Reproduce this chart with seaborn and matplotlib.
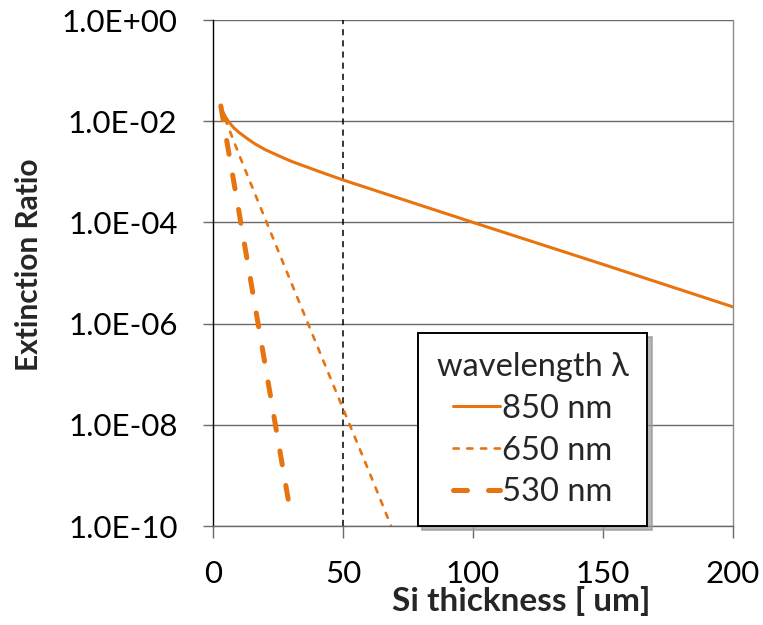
import pandas as pd
import matplotlib
matplotlib.use("Agg")
import matplotlib.pyplot as plt
from matplotlib.lines import Line2D
import seaborn as sns

# Extinction ratio vs. Si thickness (um) for three wavelengths
thickness_850 = [3, 4, 5, 6, 8, 10, 13, 16, 20, 25, 30, 40, 50, 100, 150, 200]
ratio_850 = [1.9e-2, 1.45e-2, 1.17e-2, 9.8e-3, 7.4e-3, 6.0e-3, 4.6e-3, 3.6e-3,
             2.75e-3, 2.1e-3, 1.62e-3, 1.05e-3, 6.9e-4, 1.0e-4, 1.48e-5, 2.14e-6]

thickness_650 = [3, 5, 10, 15, 20, 30, 40, 50, 60, 68.5]
ratio_650 = [2.0e-2, 1.0e-2, 2.2e-3, 5.1e-4, 1.2e-4, 6.6e-6, 3.7e-7,
             2.1e-8, 1.2e-9, 1.0e-10]

thickness_530 = [3, 5, 10, 15, 20, 25, 30]
ratio_530 = [2.0e-2, 5.0e-3, 1.6e-4, 5.0e-6, 1.6e-7, 5.0e-9, 1.6e-10]

wavelengths = ["850 nm", "650 nm", "530 nm"]
legend_title = "wavelength λ"

x_ticks = [0, 50, 100, 150, 200]
y_ticks = [1e0, 1e-2, 1e-4, 1e-6, 1e-8, 1e-10]
y_tick_labels = ["1.0E+00", "1.0E-02", "1.0E-04", "1.0E-06", "1.0E-08", "1.0E-10"]
reference_thickness = 50

x_label = "Si thickness [ um]"
y_label = "Extinction Ratio"

# ---- tidy table ----
frames = []
for name, xs, ys in zip(wavelengths,
                        [thickness_850, thickness_650, thickness_530],
                        [ratio_850, ratio_650, ratio_530]):
    frames.append(pd.DataFrame({"thickness": xs, "ratio": ys, "wavelength": name}))
df = pd.concat(frames, ignore_index=True)

# ---- styling ----
sns.set_style("white")
plt.rcParams["font.family"] = ["Lato", "DejaVu Sans"]
FS = 22.5
FS_LEG = 23.5
orange = "#E8740F"
grid_col = "#6a6a6a"

palette = {w: orange for w in wavelengths}
sizes = {"850 nm": 2.2, "650 nm": 1.9, "530 nm": 3.6}
dashes = {"850 nm": "", "650 nm": (2.0, 3.2), "530 nm": (2.8, 4.2)}

fig = plt.figure(figsize=(7.63, 6.25), dpi=100)
ax = fig.add_axes([213 / 763, 1 - 526 / 625, 520 / 763, 506 / 625])
ax.set_yscale("log")

sns.lineplot(data=df, x="thickness", y="ratio", hue="wavelength",
             style="wavelength", size="wavelength",
             palette=palette, sizes=sizes, dashes=dashes,
             hue_order=wavelengths, style_order=wavelengths, size_order=wavelengths,
             estimator=None, sort=True, legend=False, ax=ax,
             dash_capstyle="round", solid_capstyle="round",
             solid_joinstyle="round", zorder=3)

ax.axvline(reference_thickness, color="black", lw=1.1,
           linestyle=(0, (4, 3.3)), zorder=2)

ax.set_xlim(0, 200)
ax.set_ylim(1e-10, 1)
ax.set_xticks(x_ticks)
ax.set_xticklabels([str(t) for t in x_ticks], fontsize=FS)
ax.set_yticks(y_ticks)
ax.set_yticklabels(y_tick_labels, fontsize=FS)
ax.yaxis.set_minor_locator(matplotlib.ticker.NullLocator())

ax.yaxis.grid(True, color=grid_col, lw=1.0, zorder=1)
ax.xaxis.grid(False)
ax.set_axisbelow(True)

ax.tick_params(axis="y", direction="out", length=7.5, width=1.0,
               color=grid_col, pad=18, labelcolor="black", left=True)
ax.tick_params(axis="x", direction="out", length=8.5, width=1.0,
               color=grid_col, pad=16, labelcolor="black", bottom=True)

ax.spines["top"].set_visible(False)
ax.spines["right"].set_color("#8c8c8c")
ax.spines["right"].set_linewidth(1.0)
ax.spines["left"].set_color("black")
ax.spines["left"].set_linewidth(1.0)
ax.spines["bottom"].set_color(grid_col)
ax.spines["bottom"].set_linewidth(1.0)

ax.set_xlabel(x_label, fontsize=24, fontweight="bold")
ax.xaxis.set_label_coords(0.592, -0.118)
ax.set_ylabel(y_label, fontsize=21.5, fontweight="bold")
ax.yaxis.set_label_coords(-0.326, 0.516)

handles = [Line2D([], [], color=orange, lw=sizes[w],
                  linestyle="-" if dashes[w] == "" else (0, dashes[w]),
                  dash_capstyle="round", solid_capstyle="round")
           for w in wavelengths]
leg = ax.legend(handles, wavelengths, title=legend_title,
                loc="upper left", bbox_to_anchor=(0.394, 0.381),
                borderaxespad=0, fontsize=FS_LEG, title_fontsize=FS_LEG,
                frameon=True, fancybox=False, alignment="center",
                handlelength=1.45, handletextpad=0.08, labelspacing=0.36,
                borderpad=0.58,
                shadow={"ox": 3, "oy": -3, "color": "#9a9a9a", "alpha": 0.7})
leg.get_frame().set_edgecolor("black")
leg.get_frame().set_linewidth(1.4)
leg.get_frame().set_facecolor("white")
leg.get_frame().set_alpha(1)
leg.set_zorder(5)

fig.savefig("out.png", dpi=100, facecolor="white")
